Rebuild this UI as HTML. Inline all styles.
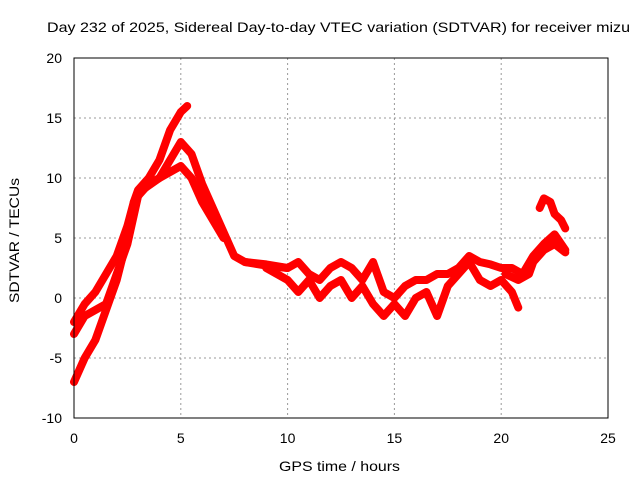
<!DOCTYPE html>
<html><head><meta charset="utf-8"><style>
body{margin:0;background:#fff}
svg text{font-family:"Liberation Sans",sans-serif;font-size:14px;fill:#000}
</style></head><body>
<svg id="c" width="640" height="480">
<text x="47" y="32" textLength="583" lengthAdjust="spacingAndGlyphs">Day 232 of 2025, Sidereal Day-to-day VTEC variation (SDTVAR) for receiver mizu</text>
<text x="279" y="471" textLength="121" lengthAdjust="spacingAndGlyphs">GPS time / hours</text>
<text transform="translate(19,303) rotate(-90)" textLength="125" lengthAdjust="spacingAndGlyphs">SDTVAR / TECUs</text>
<g id="grid"></g><g id="ticks"></g><g id="series"></g>
<rect x="74" y="58" width="534" height="360" fill="none" stroke="#000"/>
</svg>
<script>
const xTicks=[0,5,10,15,20,25];
const yTicks=[-10,-5,0,5,10,15,20];
const hoursA=[0,0.5,1,1.5,2,2.5,2.8,3,3.5,4,4.5,5,5.3];
const valsA=[-2,-0.5,0.5,2,3.5,6,8,9,10,11.5,14,15.5,16];
const hoursB=[0,0.5,1,1.5,2,2.5,2.8,3.2,3.6,4,4.5,5,5.5,6,6.5,7,7.5,8,9,10];
const valsB=[-7,-5,-3.5,-1,1.5,5,8,9,9.5,10,11.5,13,12,9.5,7.5,5.5,3.5,3,2.7,2.5];
const hoursC=[0,0.5,1,1.5,2,2.5,3,3.5,4,4.5,5,5.5,6,6.5,7];
const valsC=[-3,-1.5,-1,-0.5,2,4.5,8.5,9.5,10,10.5,11,10,8,6.5,5];
const hoursD=[8,9,10,10.5,11,11.5,12,12.5,13,13.5,14,14.5,15,15.5,16,16.5,17,17.5,18,18.5,19,19.5,20,20.5,21,21.5,22,22.5,23];
const valsD=[3,2.8,2.5,3,2,1.5,2.5,3,2.5,1.5,3,0.5,0,1,1.5,1.5,2,2,2.5,3.5,3,2.8,2.5,2.5,2,3.5,4.5,5.3,4];
const hoursE=[9,10,10.5,11,11.5,12,12.5,13,13.5,14,14.5,15,15.5,16,16.5,17,17.5,18,18.5,19,19.5,20,20.5,20.8];
const valsE=[2.5,1.5,0.5,1.5,0,1,1.5,0,1,-0.5,-1.5,-0.5,-1.5,0,0.5,-1.5,1,2,3,1.5,1,1.5,0.5,-0.8];
const hoursF=[21.8,22,22.3,22.5,22.8,23];
const valsF=[7.5,8.3,8,7,6.5,5.8];
const hoursG=[20.2,20.8,21.3,21.5,22,22.5,23];
const valsG=[2,1.5,2,3,4,4.5,3.8];
const X=h=>74+h*534/25, Y=v=>418-(v+10)*12;
const NS="http://www.w3.org/2000/svg";
const g=document.getElementById('grid'),t=document.getElementById('ticks'),s=document.getElementById('series');
function mk(tag,a,p){const e=document.createElementNS(NS,tag);for(const k in a)e.setAttribute(k,a[k]);p.appendChild(e);return e;}
xTicks.forEach(v=>{
 if(v>0&&v<25){const l=mk('line',{x1:X(v),x2:X(v),y1:58,y2:418,stroke:'#999','stroke-dasharray':'2,3'},g);
 
 }
 const tx=mk('text',{x:X(v),y:443,'text-anchor':'middle'},t);tx.textContent=v;
 
 
});
yTicks.forEach(v=>{
 if(v>-10&&v<20){const l=mk('line',{x1:74,x2:608,y1:Y(v),y2:Y(v),stroke:'#999','stroke-dasharray':'2,3'},g);
 
 }
 const tx=mk('text',{x:62,y:Y(v)+5,'text-anchor':'end'},t);tx.textContent=v;
 
 
});
[[hoursA,valsA],[hoursB,valsB],[hoursC,valsC],[hoursD,valsD],[hoursE,valsE],[hoursF,valsF],[hoursG,valsG]].forEach((sr,i)=>{
 const pts=sr[0].map((h,j)=>X(h)+','+Y(sr[1][j])).join(' ');
 const p=mk('polyline',{points:pts,fill:'none',stroke:'#f00','stroke-width':8,'stroke-linejoin':'round','stroke-linecap':'round'},s);
 
 
});
</script>
</body></html>
